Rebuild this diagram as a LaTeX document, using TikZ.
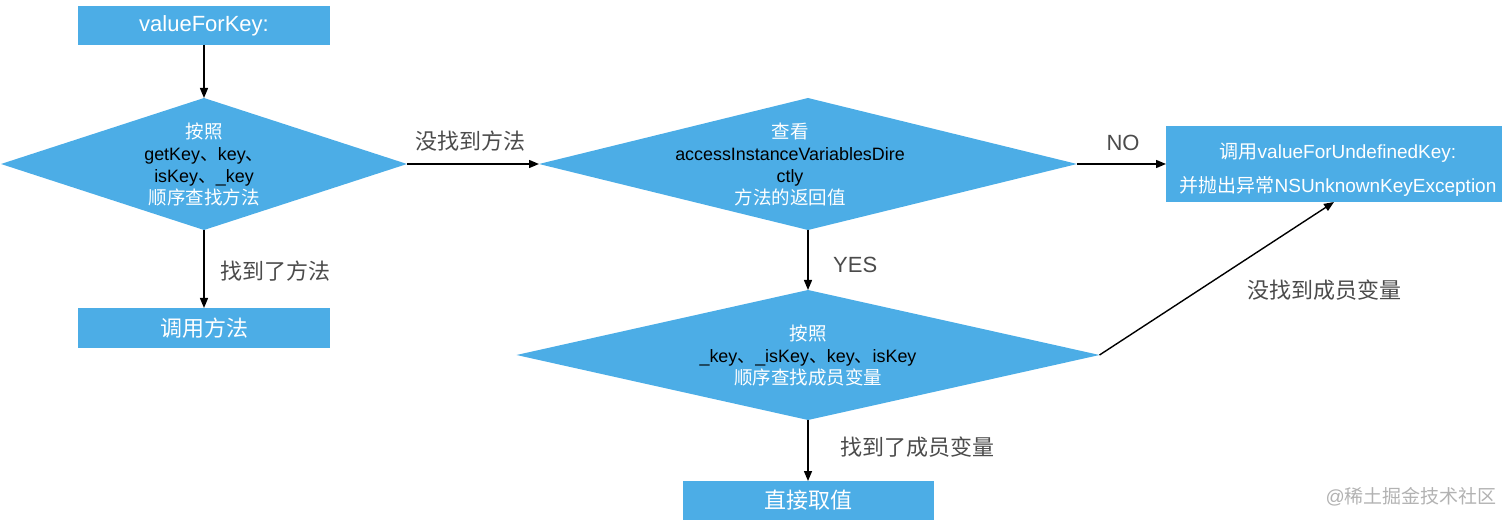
\documentclass[tikz,border=0pt]{standalone}
\usepackage{fontspec}
\setmainfont{Liberation Sans}
\newfontfamily\cjk{Noto Sans CJK SC}
\usetikzlibrary{shapes.geometric,arrows.meta}
\definecolor{kvcblue}{RGB}{76,173,230}
\definecolor{lbl}{RGB}{75,75,75}
\newcommand{\zh}[1]{{\cjk #1}}
\newcommand{\wz}[1]{{\cjk\fontsize{18.5}{22}\selectfont\color{white}#1}}
\begin{document}
\begin{tikzpicture}[x=1pt,y=-1pt]
\tikzset{
  box/.style={fill=kvcblue, draw=none, inner sep=0pt, outer sep=0pt, text=white, font=\fontsize{22}{26}\selectfont},
  dia/.style={diamond, fill=kvcblue, draw=none, inner sep=0pt, outer sep=0pt},
  dtext/.style={align=center, font=\fontsize{17.9}{22}\selectfont, text=black, inner sep=0pt},
  btext/.style={align=center, font=\fontsize{19}{34}\selectfont, text=white, inner sep=0pt},
  lab/.style={text=lbl, font=\fontsize{22}{26}\selectfont, inner sep=0pt},
  conn/.style={line width=1.4pt, -{Triangle[length=10pt,width=8pt]}},
}
\useasboundingbox (0,0) rectangle (1512,526);
% boxes
\node[box, minimum width=252pt, minimum height=39pt] (start) at (204,25.5) {valueForKey:};
\node[box, minimum width=252pt, minimum height=40pt] (call) at (204,328) {\zh{调用方法}};
\node[box, minimum width=251pt, minimum height=39pt] (direct) at (808,500.5) {\zh{直接取值}};
\node[box, minimum width=336pt, minimum height=76pt] (undef) at (1334,164) {};
\node[btext] (undeft) at (1338,170) {\zh{调用}valueForUndefinedKey:\\ \zh{并抛出异常}NSUnknownKeyException};
% diamonds
\node[dia, minimum width=406pt, minimum height=132pt] (d1) at (204,164) {};
\node[dtext] (d1t) at (d1.center) {\wz{按照}\\ getKey\zh{、}key\zh{、}\\ isKey\zh{、}\_key\\ \wz{顺序查找方法}};
\node[dia, minimum width=538pt, minimum height=132pt] (d2) at (808,164) {};
\node[dtext] (d2t) at (790,164) {\wz{查看}\\ accessInstanceVariablesDire\\ ctly\\ \wz{方法的返回值}};
\node[dia, minimum width=583pt, minimum height=130pt] (d3) at (808,355) {};
\node[dtext] (d3t) at (d3.center) {\wz{按照}\\ \_key\zh{、}\_isKey\zh{、}key\zh{、}isKey\\ \wz{顺序查找成员变量}};
% connectors
\draw[conn] (start.south) -- (d1.north);
\draw[conn] (d1.south) -- (call.north);
\draw[conn] (d1.east) -- (d2.west);
\draw[conn] (d2.east) -- (undef.west);
\draw[conn] (d2.south) -- (d3.north);
\draw[conn] (d3.south) -- (direct.north);
\draw[conn] (d3.east) -- (undef.south);
% labels
\node[lab, anchor=west] (l1) at (220,271) {\zh{找到了方法}};
\node[lab] (l2) at (470,141) {\zh{没找到方法}};
\node[lab] (l3) at (1123,143) {NO};
\node[lab, anchor=west] (l4) at (833,265) {YES};
\node[lab, anchor=west] (l5) at (840,447) {\zh{找到了成员变量}};
\node[lab, anchor=west] (l6) at (1247,290) {\zh{没找到成员变量}};
\node[text=gray!60, font=\fontsize{19}{22}\selectfont, inner sep=0pt, anchor=east] (wm) at (1497,497) {@\zh{稀土掘金技术社区}};
\end{tikzpicture}
\end{document}
